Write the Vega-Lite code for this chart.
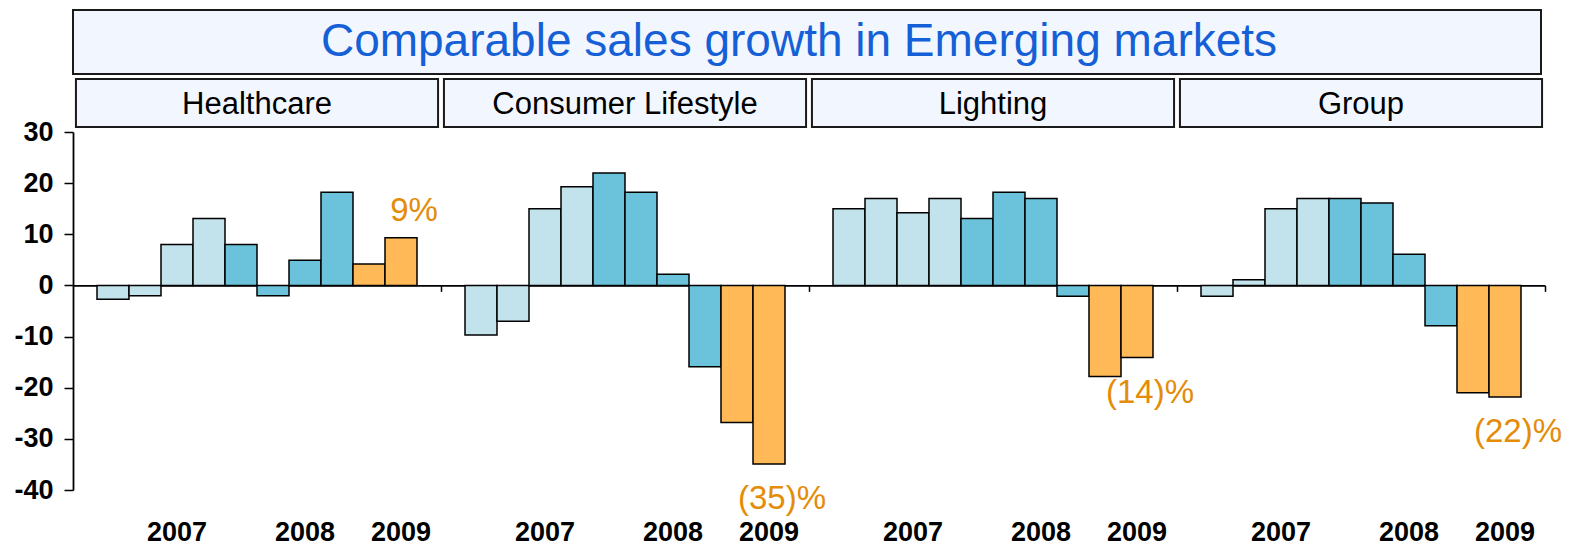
{
  "$schema": "https://vega.github.io/schema/vega-lite/v6.json",
  "autosize": {"type": "pad"},
  "padding": {"left": 13, "top": 9, "right": 4, "bottom": 2},
  "background": "white",
  "bounds": "flush",
  "spacing": 5,
  "config": {"font": "Liberation Sans", "view": {"stroke": null}},
  "datasets": {
    "growth": [
      {"segment": "Healthcare", "quarter": "2007 Q1", "year": "2007", "growth": -2.7},
      {"segment": "Healthcare", "quarter": "2007 Q2", "year": "2007", "growth": -2.0},
      {"segment": "Healthcare", "quarter": "2007 Q3", "year": "2007", "growth": 8.0},
      {"segment": "Healthcare", "quarter": "2007 Q4", "year": "2007", "growth": 13.1},
      {"segment": "Healthcare", "quarter": "2008 Q1", "year": "2008", "growth": 8.0},
      {"segment": "Healthcare", "quarter": "2008 Q2", "year": "2008", "growth": -2.0},
      {"segment": "Healthcare", "quarter": "2008 Q3", "year": "2008", "growth": 4.9},
      {"segment": "Healthcare", "quarter": "2008 Q4", "year": "2008", "growth": 18.2},
      {"segment": "Healthcare", "quarter": "2009 Q1", "year": "2009", "growth": 4.2},
      {"segment": "Healthcare", "quarter": "2009 Q2", "year": "2009", "growth": 9.3, "label": "9%"},
      {"segment": "Consumer Lifestyle", "quarter": "2007 Q1", "year": "2007", "growth": -9.7},
      {"segment": "Consumer Lifestyle", "quarter": "2007 Q2", "year": "2007", "growth": -7.0},
      {"segment": "Consumer Lifestyle", "quarter": "2007 Q3", "year": "2007", "growth": 15.0},
      {"segment": "Consumer Lifestyle", "quarter": "2007 Q4", "year": "2007", "growth": 19.3},
      {"segment": "Consumer Lifestyle", "quarter": "2008 Q1", "year": "2008", "growth": 22.0},
      {"segment": "Consumer Lifestyle", "quarter": "2008 Q2", "year": "2008", "growth": 18.2},
      {"segment": "Consumer Lifestyle", "quarter": "2008 Q3", "year": "2008", "growth": 2.2},
      {"segment": "Consumer Lifestyle", "quarter": "2008 Q4", "year": "2008", "growth": -15.9},
      {"segment": "Consumer Lifestyle", "quarter": "2009 Q1", "year": "2009", "growth": -26.8},
      {"segment": "Consumer Lifestyle", "quarter": "2009 Q2", "year": "2009", "growth": -34.9, "label": "(35)%"},
      {"segment": "Lighting", "quarter": "2007 Q1", "year": "2007", "growth": 15.0},
      {"segment": "Lighting", "quarter": "2007 Q2", "year": "2007", "growth": 17.0},
      {"segment": "Lighting", "quarter": "2007 Q3", "year": "2007", "growth": 14.2},
      {"segment": "Lighting", "quarter": "2007 Q4", "year": "2007", "growth": 17.0},
      {"segment": "Lighting", "quarter": "2008 Q1", "year": "2008", "growth": 13.1},
      {"segment": "Lighting", "quarter": "2008 Q2", "year": "2008", "growth": 18.2},
      {"segment": "Lighting", "quarter": "2008 Q3", "year": "2008", "growth": 17.0},
      {"segment": "Lighting", "quarter": "2008 Q4", "year": "2008", "growth": -2.1},
      {"segment": "Lighting", "quarter": "2009 Q1", "year": "2009", "growth": -17.8},
      {"segment": "Lighting", "quarter": "2009 Q2", "year": "2009", "growth": -14.1, "label": "(14)%"},
      {"segment": "Group", "quarter": "2007 Q1", "year": "2007", "growth": -2.1},
      {"segment": "Group", "quarter": "2007 Q2", "year": "2007", "growth": 1.1},
      {"segment": "Group", "quarter": "2007 Q3", "year": "2007", "growth": 15.0},
      {"segment": "Group", "quarter": "2007 Q4", "year": "2007", "growth": 17.0},
      {"segment": "Group", "quarter": "2008 Q1", "year": "2008", "growth": 17.0},
      {"segment": "Group", "quarter": "2008 Q2", "year": "2008", "growth": 16.1},
      {"segment": "Group", "quarter": "2008 Q3", "year": "2008", "growth": 6.1},
      {"segment": "Group", "quarter": "2008 Q4", "year": "2008", "growth": -7.9},
      {"segment": "Group", "quarter": "2009 Q1", "year": "2009", "growth": -21.0},
      {"segment": "Group", "quarter": "2009 Q2", "year": "2009", "growth": -21.8, "label": "(22)%"}
    ],
    "segments": [
      {"segment": "Healthcare"},
      {"segment": "Consumer Lifestyle"},
      {"segment": "Lighting"},
      {"segment": "Group"}
    ],
    "title": [{"title": "Comparable sales growth in Emerging markets"}]
  },
  "vconcat": [
    {
      "width": 1468,
      "height": 64,
      "view": {"fill": "#f2f7ff", "stroke": "#1a1a1a", "strokeWidth": 2},
      "data": {"name": "title"},
      "mark": {"type": "text", "fontSize": 46, "color": "#1560d6", "baseline": "middle", "align": "center", "dx": -8},
      "encoding": {"text": {"field": "title"}}
    },
    {
      "width": 1472,
      "height": 48,
      "data": {"name": "segments"},
      "encoding": {
        "x": {
          "field": "segment",
          "type": "nominal",
          "sort": ["Healthcare", "Consumer Lifestyle", "Lighting", "Group"],
          "scale": {"paddingInner": 0, "paddingOuter": 0},
          "axis": null
        }
      },
      "layer": [
        {
          "mark": {"type": "bar", "fill": "#f2f7ff", "stroke": "#1a1a1a", "strokeWidth": 2, "width": {"band": 0.984}}
        },
        {
          "mark": {"type": "text", "fontSize": 31, "color": "black", "baseline": "middle", "dy": 2},
          "encoding": {"text": {"field": "segment"}}
        }
      ]
    },
    {
      "width": 1472,
      "height": 358,
      "data": {"name": "growth"},
      "encoding": {
        "x": {
          "field": "segment",
          "type": "nominal",
          "sort": ["Healthcare", "Consumer Lifestyle", "Lighting", "Group"],
          "scale": {"paddingInner": 0, "paddingOuter": 0},
          "axis": {
            "title": null,
            "labels": false,
            "domain": true,
            "domainColor": "black",
            "domainWidth": 1.8,
            "ticks": true,
            "tickColor": "black",
            "tickWidth": 1.5,
            "tickSize": 6,
            "bandPosition": 1,
            "offset": -204.6
          }
        },
        "xOffset": {
          "field": "quarter",
          "type": "ordinal",
          "scale": {"paddingInner": 0, "paddingOuter": 0.75}
        }
      },
      "layer": [
        {
          "mark": {"type": "bar", "stroke": "black", "strokeWidth": 1.5},
          "encoding": {
            "y": {
              "field": "growth",
              "type": "quantitative",
              "scale": {"domain": [-40, 30], "nice": false, "zero": false},
              "axis": {
                "title": null,
                "grid": false,
                "values": [-40, -30, -20, -10, 0, 10, 20, 30],
                "labelExpr": "'' + datum.value",
                "labelFontSize": 27,
                "labelFontWeight": "bold",
                "labelColor": "black",
                "labelPadding": 11,
                "tickSize": 9,
                "tickColor": "black",
                "tickWidth": 1.5,
                "domainColor": "black",
                "domainWidth": 1.8
              }
            },
            "color": {
              "field": "year",
              "type": "nominal",
              "scale": {"domain": ["2007", "2008", "2009"], "range": ["#c2e3ec", "#6bc3db", "#ffb957"]},
              "legend": null
            }
          }
        },
        {
          "transform": [{"filter": {"field": "quarter", "oneOf": ["2007 Q3", "2008 Q3", "2009 Q2"]}}],
          "mark": {"type": "text", "fontSize": 27, "fontWeight": "bold", "color": "black", "baseline": "middle", "dy": 43},
          "encoding": {
            "y": {"datum": -40, "type": "quantitative"},
            "text": {"field": "year"}
          }
        },
        {
          "transform": [{"filter": "isValid(datum.label) && datum.growth > 0"}],
          "mark": {"type": "text", "fontSize": 33, "color": "#e48c08", "baseline": "middle", "dx": 13, "dy": -27},
          "encoding": {
            "y": {"field": "growth", "type": "quantitative"},
            "text": {"field": "label"}
          }
        },
        {
          "transform": [{"filter": "isValid(datum.label) && datum.growth < 0"}],
          "mark": {"type": "text", "fontSize": 33, "color": "#e48c08", "baseline": "middle", "dx": 13, "dy": 35},
          "encoding": {
            "y": {"field": "growth", "type": "quantitative"},
            "text": {"field": "label"}
          }
        }
      ]
    }
  ]
}
